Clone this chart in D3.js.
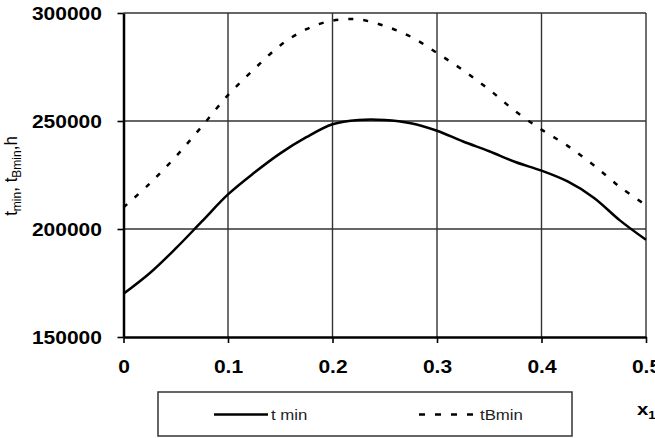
<!DOCTYPE html>
<html>
<head>
<meta charset="utf-8">
<script src="https://cdn.jsdelivr.net/npm/d3@7"></script>
<style>
  body { margin: 0; background: #fff; overflow: hidden; }
  svg { display: block; font-family: "Liberation Sans", Arial, sans-serif; }
</style>
</head>
<body>
<svg width="655" height="438"></svg>
<script>
// values
var xValues = [0, 0.025, 0.05, 0.075, 0.1, 0.125, 0.15, 0.175, 0.2, 0.225, 0.25,
               0.275, 0.3, 0.325, 0.35, 0.375, 0.4, 0.425, 0.45, 0.475, 0.5];
var tMin = [170000, 179500, 191000, 203500, 216000, 226000, 235000, 242500, 248500, 250500, 250500,
            249000, 245500, 240500, 236000, 231000, 227000, 222000, 214500, 204000, 195000];
var tBmin = [210000, 221000, 233500, 247500, 262000, 274000, 285000, 292500, 296500, 297000, 294000,
             289000, 281500, 273500, 264500, 254500, 246000, 238500, 229500, 219500, 211000];
var xTicks = [0, 0.1, 0.2, 0.3, 0.4, 0.5];
var yTicks = [150000, 200000, 250000, 300000];
var seriesNames = ["t min", "tBmin"];

var svg = d3.select("svg");
var plotLeft = 123.5, plotRight = 646, plotTop = 13, plotBottom = 337;

var x = d3.scaleLinear().domain([0, 0.5]).range([plotLeft, plotRight]);
var y = d3.scaleLinear().domain([150000, 300000]).range([plotBottom, plotTop]);

// grid
svg.append("g").selectAll("line")
  .data(yTicks.slice(1))
  .enter().append("line")
  .attr("x1", plotLeft).attr("x2", plotRight)
  .attr("y1", function (d) { return y(d); })
  .attr("y2", function (d) { return y(d); })
  .attr("stroke", "#333").attr("stroke-width", 1.4);

svg.append("g").selectAll("line")
  .data(xTicks.slice(1))
  .enter().append("line")
  .attr("y1", plotTop).attr("y2", plotBottom)
  .attr("x1", function (d) { return x(d); })
  .attr("x2", function (d) { return x(d); })
  .attr("stroke", "#333").attr("stroke-width", 1.4);

// lines
var line = d3.line().curve(d3.curveCatmullRom);

svg.append("path")
  .datum(xValues.map(function (d, i) { return [x(d), y(tMin[i])]; }))
  .attr("d", line)
  .attr("fill", "none")
  .attr("stroke", "#000")
  .attr("stroke-width", 2.5);

svg.append("path")
  .datum(xValues.map(function (d, i) { return [x(d), y(tBmin[i])]; }))
  .attr("d", line)
  .attr("fill", "none")
  .attr("stroke", "#000")
  .attr("stroke-width", 2.5)
  .attr("stroke-dasharray", "5,10");

// axes
var yAxis = svg.append("g")
  .attr("transform", "translate(" + plotLeft + ",0)")
  .call(d3.axisLeft(y).tickValues(yTicks).tickSize(6).tickSizeOuter(0).tickFormat(d3.format("d")));

var xAxis = svg.append("g")
  .attr("transform", "translate(0," + plotBottom + ")")
  .call(d3.axisBottom(x).tickValues(xTicks).tickSize(6).tickSizeOuter(0).tickFormat(d3.format("~g")));

[yAxis, xAxis].forEach(function (a) {
  a.select(".domain").attr("stroke", "#000").attr("stroke-width", 2.5);
  a.selectAll(".tick line").attr("stroke", "#000").attr("stroke-width", 1.6);
  a.selectAll("text")
    .attr("fill", "#000")
    .attr("font-family", "'Liberation Sans', Arial, sans-serif")
    .attr("font-size", "17.5px")
    .attr("font-weight", "bold")
    .attr("transform", "scale(1.2,1)");
});
yAxis.selectAll("text").attr("x", -18).attr("dy", "0.36em");
xAxis.selectAll("text").attr("y", 36).attr("dy", 0);

// y title
var yt = svg.append("text")
  .attr("transform", "translate(17,176) scale(1.1,1) rotate(-90)")
  .attr("text-anchor", "middle")
  .attr("font-size", "17px")
  .attr("fill", "#000");
yt.append("tspan").text("t");
yt.append("tspan").attr("font-size", "12px").attr("dy", 4).text("min");
yt.append("tspan").attr("dy", -4).text(", t");
yt.append("tspan").attr("font-size", "12px").attr("dy", 4).text("Bmin");
yt.append("tspan").attr("dy", -4).text(",h");

// x title
var xt = svg.append("text")
  .attr("transform", "translate(637,415) scale(1.2,1)")
  .attr("font-size", "17px")
  .attr("font-weight", "bold")
  .attr("fill", "#000");
xt.append("tspan").text("x");
xt.append("tspan").attr("font-size", "11px").attr("dy", 4).text("1");

// legend
var legend = svg.append("g");
legend.append("rect")
  .attr("x", 158).attr("y", 392).attr("width", 414).attr("height", 44)
  .attr("fill", "#fff").attr("stroke", "#333").attr("stroke-width", 1.5);

var items = [
  { name: seriesNames[0], x0: 214, x1: 268, dash: null },
  { name: seriesNames[1], x0: 419, x1: 477, dash: "6,10" }
];
items.forEach(function (it) {
  legend.append("line")
    .attr("x1", it.x0).attr("x2", it.x1)
    .attr("y1", 414.5).attr("y2", 414.5)
    .attr("stroke", "#000").attr("stroke-width", 2.5)
    .attr("stroke-dasharray", it.dash);
  legend.append("text")
    .attr("transform", "translate(" + (it.x1 + 3) + ",420) scale(1.2,1)")
    .attr("font-size", "14px")
    .attr("fill", "#222")
    .text(it.name);
});
</script>
</body>
</html>
